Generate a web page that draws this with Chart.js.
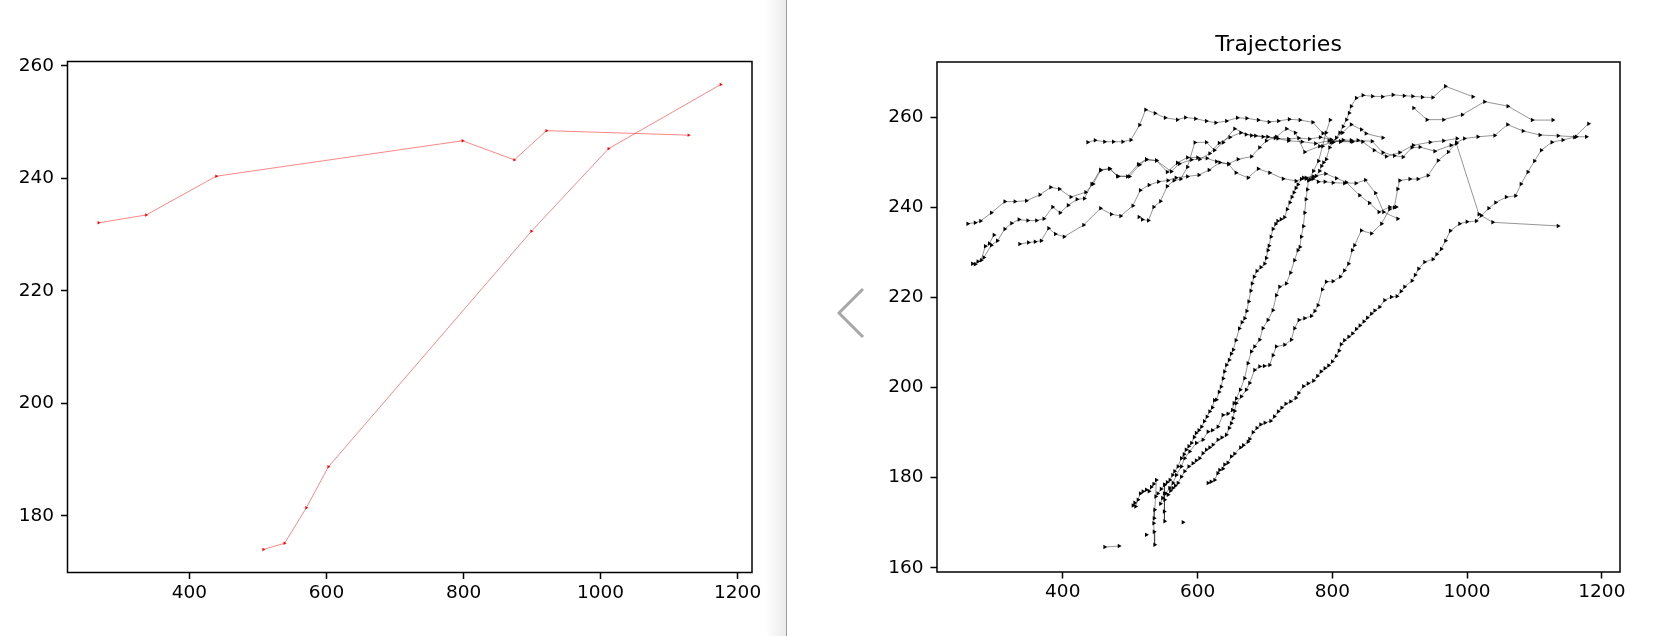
<!DOCTYPE html>
<html>
<head>
<meta charset="utf-8">
<script src="https://cdn.jsdelivr.net/npm/chart.js@4.4.0/dist/chart.umd.min.js"></script>
<style>
html,body{margin:0;padding:0;background:#fff;width:1670px;height:636px;overflow:hidden;}
#shade{position:absolute;left:754px;top:0;width:32px;height:636px;background:linear-gradient(to right,#ffffff 0%,#ffffff 35%,#ebebeb 100%);}
#sep{position:absolute;left:786px;top:0;width:1px;height:636px;background:#9c9c9c;}
#leftc{position:absolute;left:0;top:0;}
#rightc{position:absolute;left:787px;top:0;}
#chev{position:absolute;left:834px;top:286px;}
</style>
</head>
<body>
<div id="shade"></div>
<div id="sep"></div>
<canvas id="leftc" width="786" height="636"></canvas>
<canvas id="rightc" width="883" height="636"></canvas>
<svg id="chev" width="34" height="54"><polyline points="29,3 5,27 29,51" fill="none" stroke="#a8a8a8" stroke-width="3"/></svg>
<script>
// ---------- tick labels ----------
const leftXTicks = [400, 600, 800, 1000, 1200];
const leftYTicks = [180, 200, 220, 240, 260];
const rightXTicks = [400, 600, 800, 1000, 1200];
const rightYTicks = [160, 180, 200, 220, 240, 260];
const rightTitle = 'Trajectories';

// ---------- left panel (red) ----------
const redTrackA = [[267.3,232.1],[336.8,233.5],[439.2,240.4],[798.6,246.7],[874.2,243.3],[921,248.5],[1128.5,247.7]];
const redTrackB = [[507.9,174.0],[538.8,175.1],[570.5,181.4],[602.8,188.7],[899,230.6],[1011.7,245.3],[1175.3,256.7]];

// ---------- right panel (black) ----------
const trajT1 = [[437,254.5],[448,254.9],[462,254.6],[475,254.6],[489,254.6],[501,255],[514,258.3],[523,261.7],[537,260.9],[552,259.9],[570,259.5],[582,260],[597,259.7],[613,259.2],[627,258.8],[643,259.2],[659,259.9],[673,259.8],[690,259.4],[706,259],[720,259.2],[736,259.6],[752,259.4],[771,258.9],[786,256.5],[801,254.5],[816,255],[828,254.9],[838,254.9],[859,254.7],[875,252.2],[892,251.5],[905,251.2],[918,253.3],[930,253.4],[952,252.5],[976,253.8],[984,254.2],[1017.5,238.5],[1038,236.7],[1135,235.9]];
const trajTA = [[259,236.4],[270,236.6],[278,237],[294,238.8],[314,241.3],[329,241.3],[346,241.5],[366,242.8],[382,244.5],[395,244.1],[412,242.3],[434,243.4],[445,245.2],[456,248.2],[469,248.6],[482,246.9],[499,246.9],[514,249.5],[524,250.6],[539,250.4],[561,248],[573,249.7],[591,250.6],[603,250.7],[618,252],[632,254.3],[648,255.6],[664,256.6],[680,256],[697,255.7],[715,255.4],[735,254.8],[755,254.6],[775,254.2],[795,254.8],[812,254.6],[830,254.6]];
const trajTB = [[266,227.5],[274,228],[283,228.9],[294,231.6],[303,232.6],[314,235.2],[324,236.5],[335,237.3],[348,237.1],[361,237.1],[372,237.5],[385,240.1],[396,238.8],[408,240.5],[421,241.8],[432,242],[443,245.2],[456,248.4],[470,248.6],[481,247],[496,246.9],[512,249.6],[524,250.7],[539,250.4],[555,247.9],[570,249.9],[585,251.1],[600,251.1],[614,250.9],[628,250.2],[646,249.6],[657,247.7],[675,246.6],[690,248.6],[707,247.7],[727,246.4],[746,245.9],[761,246.6],[771,246.6],[779,245.7],[789,245.7],[801,245.5],[818,245.4],[835,245.4],[849,246.1],[864,243.2],[876,239],[897,237.5]];
const trajTC = [[270,227.4],[279,228.3],[285,231.4],[291,232.0],[298,233.9]];
const trajTD = [[336,231.9],[349,232.2],[359,232.4],[368,232.6],[379,235.4],[389,234.1],[402,233.5],[431,236.1],[456,239.8],[472,238.5],[486,238.1],[504,240.4],[515,243.8],[528,245],[542,245.7],[556,246],[568,246.6],[585,246.9],[602,247.2],[617,248.3],[633,250],[646,249.7],[660,250.7],[680,251.3],[692,253.3],[702,254.8],[717,255.7],[732,257.5],[745,256.6],[759,252.3],[781,253.6],[798,254.4],[815,256.6],[828,258.4],[843,257.3],[850,256.4],[875,255.5]];
const trajTE = [[513,237.9],[518,237.3],[527,237.1],[535,240.1],[545,241.4],[555,244.7],[565,246],[575,246.3],[585,249],[596,254.4],[613,254.5],[625,252.7],[638,254.4],[655,257.5],[672,256.2],[686,255.9],[704,255.7],[719,255.3],[735,255.2],[750,255.4],[766,255.2],[782,255.6],[798,255.1],[812,254.7],[828,254.7],[845,254.6],[862,252.7],[880,251.3],[900,252.2],[920,253.8],[945,254.5],[965,254.8],[985,255.3]];
const trajTF = [[920.6,262.1],[940.4,259.5],[965.1,259.5],[992.8,260.6],[1025.9,263.5],[1060.5,262.5],[1096.6,259.4],[1127.3,259.4]];
const trajTH = [[757,246.6],[772,246.9],[790,247.5],[806,246.5],[820.6,245.6],[840.4,242.7],[855,241],[869.1,239],[885,240.1],[894.8,240.1]];
const trajL1 = [[541,176.5],[546,177.5],[551,178.4],[555,179],[559,179.5],[563,180.6],[566,181.4],[571,182.5],[576,184.3],[580,185.2],[583,186.2],[587,187],[591,187.7],[595,189],[598,189.9],[602,190.5],[606,191.3],[610,192.5],[614,193.5],[618,194.7],[622,195.6],[625,197.2],[628,197.3],[632,199],[635,200.2],[638,202],[640,203.6],[643,205],[647,206.1],[650,207.5],[653,208.4],[657,210.5],[662,213.1],[666,214.5],[670,215.4],[673,217],[676,219.1],[679,221.5],[681,223.1],[684,224.6],[688,225.9],[694,226.7],[699.5,227.5],[702,228.8],[704.5,230.5],[706,231.5],[709,233.5],[712,235.2],[716,236.3],[719,237],[724,237.4],[729,237.8],[733,239.6],[737,241.1],[740,242.3],[743,243.3],[746,244.3],[749,245.1],[754,246.3],[761,246.4],[767,246.2],[771,246.3],[776,247],[781,248.1],[784,249.2],[787,250],[791,250.7],[796,253.3],[801,254.5],[806,255.5],[811,256.6],[816,258],[821,259.5],[825,261],[828,262.5],[835.5,264.3],[845.4,264.9],[859.5,264.7],[874.4,264.6],[890,265],[906.5,264.8],[919.2,264.7],[933.4,264.5],[949,264.4],[967.8,266.9],[1008.6,264.6]];
const trajL2 = [[545,174.2],[548,175.5],[553,176.5],[558.6,177.7],[563.6,178.8],[568.5,180.6],[576,182.5],[580.9,184.3],[588.3,185.8],[598.2,187.7],[608,188.4],[615.5,190.2],[622,190.5],[630.3,191.3],[637.7,193.9],[645,194.2],[651.6,195],[654,196.5],[657.5,197.6],[663.4,199.5],[669.9,202.1],[674.8,205.4],[679.8,208],[684.7,209.1],[692.1,210.6],[697,213.2],[704.5,215],[711.9,217.2],[717,220.5],[721.8,222.4],[731.7,223.1],[738,225.5],[744,228.3],[749,230.5],[751.9,231.2],[754,233.5],[757.1,235.8],[759,238.8],[760.9,241.8],[763,244],[764.6,246],[772,248.1],[779.5,250.3],[785.5,253.6],[790.7,256.6],[796.7,259.4]];
const trajL3 = [[556.2,176.2],[560,177.1],[563.6,177.7],[567,178.2],[571,178.8],[576,180.2],[580.9,181.4],[587,182.5],[593.2,183.2],[598,183.8],[603.1,184.3],[608,185.4],[613,186.2],[618,186.7],[622.9,187.3],[630.3,188.4],[636,188.9],[642.7,189.5],[647,191],[650,192.1],[652.6,193.2],[655,194.8],[657.5,196.5],[664.9,198],[672.3,199.5],[677.3,201],[684.7,203.9],[692.1,204.7],[699,204.8],[707,205],[712,207.2],[716.8,209.1],[729.2,209.5],[739.1,210.6],[744,213.2],[750.5,215],[758.9,215.4],[768.8,215.9],[774,217],[778.7,218.3],[785.1,221.8],[791,223.5],[800.9,223.6],[811.8,224.6],[818,226],[824.1,227.5],[829.6,230.5],[833,231.6],[843,234.9],[858,234.2],[873,236.4],[885,239.6],[892,240],[897,244.1],[900,246],[915,246.3],[927,246.3],[942,247.1],[957,250.4],[972,252.3],[984,254.4],[996,255.3],[1016,255.7],[1041,256],[1060,258.4],[1083,257],[1108,256.1],[1135,255.9],[1162,255.7],[1177,255.7]];
const trajL4 = [[615.5,178.8],[620,179.1],[625.4,179.5],[630,181],[632.8,181.7],[637.6,182],[640.2,182.9],[645,183.3],[650.1,184.7],[655,185.3],[663.7,186.7],[668,187.2],[674.9,188],[677.3,188.6],[682.4,190.1],[688,191],[693.6,191.8],[700,192.2],[708.5,192.6],[714,193.6],[719.8,194.7],[725,195.5],[731,196.4],[738,196.9],[745.9,197.7],[750,198.8],[757.1,200.3],[764,200.9],[772.1,201.5],[778,202.6],[783.3,203.6],[789,204.3],[794.5,204.9],[800,205.8],[805.7,207],[810,208.2],[813.1,209.6],[818,210.5],[824.4,211.3],[830,212],[835.6,213],[841,213.8],[846.8,214.7],[852,215.5],[858,216.4],[863,217.1],[870.2,217.9],[877.6,219.4],[887.5,220.1],[895.9,220.3],[902,221.4],[907.3,222.4],[918.2,223.7],[923,225],[928.1,226.4],[937,227.9],[949.3,228.5],[955,229.6],[961.7,230.8],[968,232.6],[975,234.8],[988.9,236.4],[999.8,236.8],[1013.6,237],[1021,238.2],[1032,239.8],[1042.3,241.1],[1058,242.3],[1071.9,242.6],[1080,245.2],[1090.2,247.9],[1100,250.3],[1110,252.7],[1125.8,254.5],[1142.1,255],[1159.4,255.6],[1180.2,258.6]];
const trajB1 = [[462.2,164.6],[483.5,164.8]];
const trajB2 = [[578.4,170.1]];
const trajB3 = [[524,167.3]];
const trajB4 = [[504.2,173.8],[506.7,174.4],[508,173.6],[511.6,175.1],[515,176.5],[519,176.9],[524,177.3],[528,177],[531.4,177.9],[535,178.6],[538.8,179.5],[537.9,175.8],[536.4,172.9],[535.5,171],[534.9,169.9],[535.5,168],[536.4,165.1]];
const trajB5 = [[551.2,178.4],[550.5,176.5],[551.2,175.1],[550.5,172.5],[551.2,170.3]];

const leftSeries = [redTrackA, redTrackB];
const rightSeries = [trajT1, trajTA, trajTB, trajTC, trajTD, trajTE, trajTF, trajTH, trajL1, trajL2, trajL3, trajL4, trajB1, trajB2, trajB3, trajB4, trajB5];

// ---------- drawing ----------
const FONT = 'DejaVu Sans';
const framePlugin = {
  id: 'frame',
  afterDatasetsDraw(chart) {
    const a = chart.chartArea, ctx = chart.ctx;
    ctx.save();
    ctx.strokeStyle = '#000';
    ctx.lineWidth = 1.5;
    ctx.strokeRect(a.left, a.top, a.right - a.left, a.bottom - a.top);
    const t = chart.options.plugins.frameTitle;
    if (t && t.text) {
      ctx.fillStyle = '#000';
      ctx.font = '22px "' + FONT + '"';
      ctx.textAlign = 'center';
      ctx.textBaseline = 'alphabetic';
      ctx.fillText(t.text, (a.left + a.right) / 2, a.top - 11);
    }
    ctx.restore();
  }
};

function toDataset(arr, color, lineColor, lw, r) {
  return {
    data: arr.map(p => ({x: p[0], y: p[1]})),
    showLine: true,
    borderColor: lineColor,
    borderWidth: lw,
    pointStyle: 'triangle',
    rotation: 90,
    pointRotation: 90,
    pointRadius: r,
    pointBackgroundColor: color,
    pointBorderColor: color,
    pointBorderWidth: 0,
    tension: 0
  };
}

function axis(min, max, ticks, size, pad) {
  return {
    type: 'linear',
    min: min, max: max,
    afterBuildTicks: s => { s.ticks = ticks.map(v => ({value: v})); },
    afterFit: s => { if (s.isHorizontal()) s.height = size; else s.width = size; },
    grid: {display: true, drawOnChartArea: false, drawTicks: true, tickLength: 6.5, tickWidth: 1.5, tickColor: '#000'},
    border: {display: false},
    ticks: {color: '#000', font: {family: FONT, size: 18.5}, padding: pad, maxRotation: 0, autoSkip: false,
            callback: v => String(v)}
  };
}

function makeChart(id, datasets, cfg) {
  return new Chart(document.getElementById(id), {
    type: 'scatter',
    data: {datasets: datasets},
    options: {
      responsive: false,
      animation: false,
      devicePixelRatio: 1,
      layout: {padding: {left: 0, right: cfg.padRight, top: cfg.padTop, bottom: 0}},
      plugins: {legend: {display: false}, tooltip: {enabled: false}, frameTitle: {text: cfg.title || ''}},
      scales: {
        x: axis(cfg.xmin, cfg.xmax, cfg.xticks, cfg.xh, 3),
        y: axis(cfg.ymin, cfg.ymax, cfg.yticks, cfg.yw, 7)
      }
    },
    plugins: [framePlugin]
  });
}

makeChart('leftc', leftSeries.map(s => toDataset(s, '#ff0000', 'rgba(255,0,0,0.8)', 0.6, 2.0)), {
  padRight: 34, padTop: 61.5, xh: 63.5, yw: 67.5,
  xmin: 222, xmax: 1221, ymin: 169.9, ymax: 260.8,
  xticks: leftXTicks, yticks: leftYTicks
});

makeChart('rightc', rightSeries.map(s => toDataset(s, '#000000', 'rgba(0,0,0,0.7)', 0.6, 2.6)), {
  padRight: 50, padTop: 62, xh: 64, yw: 150,
  xmin: 213.4, xmax: 1226.9, ymin: 159.05, ymax: 272.3,
  xticks: rightXTicks, yticks: rightYTicks, title: rightTitle
});
</script>
</body>
</html>
